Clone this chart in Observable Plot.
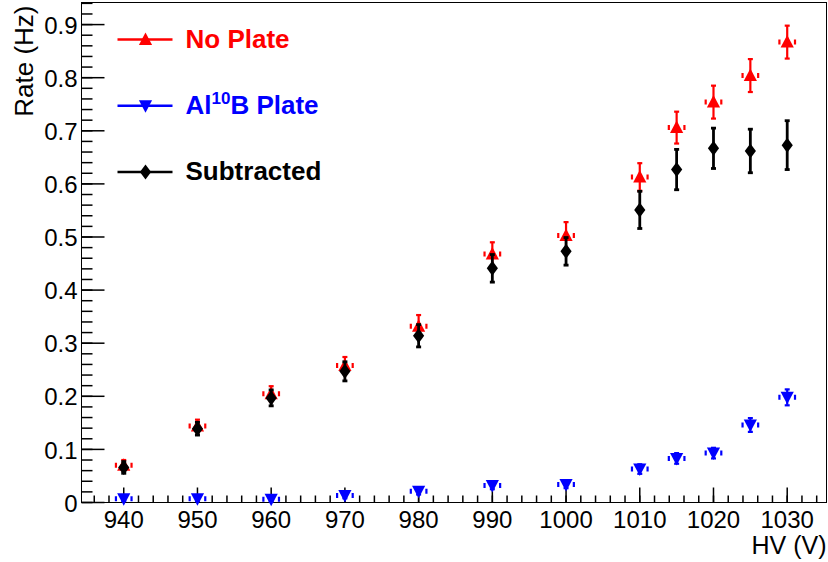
<!DOCTYPE html>
<html>
<head>
<meta charset="utf-8">
<script src="https://cdn.jsdelivr.net/npm/d3@7"></script>
<script src="https://cdn.jsdelivr.net/npm/@observablehq/plot@0.6"></script>
<style>
  html, body { margin: 0; padding: 0; background: #fff; }
  #chart svg { display: block; }
</style>
</head>
<body>
<div id="chart"></div>
<script>
// High-voltage scan: count rate with and without the Al-10B plate, and their difference
const hv = [940, 950, 960, 970, 980, 990, 1000, 1010, 1015, 1020, 1025, 1030];

const noPlate    = [0.070, 0.144, 0.205, 0.258, 0.332, 0.468, 0.503, 0.613, 0.706, 0.754, 0.804, 0.867];
const noPlateErr = [0.010, 0.012, 0.014, 0.016, 0.021, 0.022, 0.025, 0.026, 0.030, 0.031, 0.031, 0.031];

const alPlate    = [0.007, 0.007, 0.006, 0.013, 0.021, 0.032, 0.034, 0.063, 0.083, 0.093, 0.146, 0.198];
const alPlateErr = [0.004, 0.004, 0.004, 0.005, 0.006, 0.007, 0.007, 0.009, 0.010, 0.010, 0.013, 0.015];

const subtracted    = [0.066, 0.139, 0.197, 0.247, 0.314, 0.441, 0.473, 0.551, 0.627, 0.667, 0.662, 0.673];
const subtractedErr = [0.011, 0.012, 0.015, 0.018, 0.021, 0.026, 0.026, 0.035, 0.038, 0.038, 0.041, 0.046];

const xMajorTicks = [940, 950, 960, 970, 980, 990, 1000, 1010, 1020, 1030];
const xMinorTicks = d3.range(936, 1035, 2);
const yMajorTicks = [0, 0.1, 0.2, 0.3, 0.4, 0.5, 0.6, 0.7, 0.8, 0.9];
const yMinorTicks = d3.range(0, 0.941, 0.02);

const xTitle = "HV (V)";
const yTitle = "Rate (Hz)";

// ---- custom marker shapes (pixel units) ----
const poly = pts => ({
  draw(ctx) {
    ctx.moveTo(pts[0][0], pts[0][1]);
    for (const p of pts.slice(1)) ctx.lineTo(p[0], p[1]);
    ctx.closePath();
  }
});
const seg = (x1, y1, x2, y2) => ({draw(ctx) { ctx.moveTo(x1, y1); ctx.lineTo(x2, y2); }});
const triUp = poly([[0, -7], [6.6, 5.5], [-6.6, 5.5]]);
const triDown = poly([[0, 7], [6.6, -5.5], [-6.6, -5.5]]);
const diamond = poly([[0, -7.5], [5.6, 0], [0, 7.5], [-5.6, 0]]);
const cap = seg(-2.5, 0, 2.5, 0);
const sideCaps = {draw(ctx) { ctx.moveTo(-7.8, -2.5); ctx.lineTo(-7.8, 2.5); ctx.moveTo(7.8, -2.5); ctx.lineTo(7.8, 2.5); }};
const legendLine = seg(-27.5, 0, 27.5, 0);

const series = [
  {name: "No Plate", color: "#ff0000", values: noPlate, errors: noPlateErr, marker: triUp, sides: true, bar: 2.2},
  {name: "Al10B Plate", color: "#0000ff", values: alPlate, errors: alPlateErr, marker: triDown, sides: true, bar: 2.2},
  {name: "Subtracted", color: "#000000", values: subtracted, errors: subtractedErr, marker: diamond, sides: false, bar: 2.8}
];

const dataMarks = series.flatMap(s => {
  const rows = hv.map((x, i) => ({hv: x, v: s.values[i], e: s.errors[i]}));
  const marks = [
    Plot.ruleX(rows, {x: "hv", y1: d => d.v - d.e, y2: d => d.v + d.e, stroke: s.color, strokeWidth: s.bar}),
    Plot.dot(rows, {x: "hv", y: d => d.v + d.e, symbol: cap, stroke: s.color, strokeWidth: s.bar, fill: "none"}),
    Plot.dot(rows, {x: "hv", y: d => d.v - d.e, symbol: cap, stroke: s.color, strokeWidth: s.bar, fill: "none"})
  ];
  if (s.sides) marks.push(Plot.dot(rows, {x: "hv", y: "v", symbol: sideCaps, stroke: s.color, strokeWidth: 2.2, fill: "none"}));
  marks.push(Plot.dot(rows, {x: "hv", y: "v", symbol: s.marker, fill: s.color, stroke: "none"}));
  return marks;
});

const legendMarks = series.flatMap((s, i) => {
  const dy = 37 + i * 66.3;
  return [
    Plot.dot([s], {frameAnchor: "top-left", dx: 63.5, dy, symbol: legendLine, stroke: s.color, strokeWidth: 2.5, fill: "none"}),
    Plot.dot([s], {frameAnchor: "top-left", dx: 64, dy, symbol: s.marker, fill: s.color, stroke: "none"}),
    Plot.text([s], {frameAnchor: "top-left", dx: 104, dy, text: d => d.name, fill: s.color, fontWeight: "bold",
      fontSize: 26, textAnchor: "start", lineAnchor: "middle"})
  ];
});

const chart = Plot.plot({
  width: 828,
  height: 562,
  marginLeft: 81,
  marginRight: 2,
  marginTop: 2,
  marginBottom: 60,
  style: {fontFamily: "'Liberation Sans', Arial, sans-serif", background: "#fff", color: "#000"},
  x: {domain: [934.27, 1035.33]},
  y: {domain: [0, 0.9416]},
  marks: [
    // inward ticks
    Plot.dot(xMinorTicks, {x: d => d, frameAnchor: "bottom", symbol: seg(0, 0, 0, -7), stroke: "#000", fill: "none"}),
    Plot.dot(xMajorTicks, {x: d => d, frameAnchor: "bottom", symbol: seg(0, 0, 0, -15), stroke: "#000", fill: "none"}),
    Plot.dot(yMinorTicks, {y: d => d, frameAnchor: "left", symbol: seg(0, 0, 11, 0), stroke: "#000", fill: "none"}),
    Plot.dot(yMajorTicks, {y: d => d, frameAnchor: "left", symbol: seg(0, 0, 23, 0), stroke: "#000", fill: "none"}),
    Plot.axisX({ticks: xMajorTicks, tickSize: 0, tickPadding: 8, fontSize: 24, label: null, tickFormat: d => String(d)}),
    Plot.axisY({ticks: yMajorTicks, tickSize: 0, tickPadding: 4, fontSize: 24, label: null, dy: 1.5,
      tickFormat: d => d === 0 ? "0" : d.toFixed(1)}),
    Plot.frame({stroke: "#000", strokeWidth: 1}),
    Plot.text([xTitle], {frameAnchor: "bottom-right", textAnchor: "end", lineAnchor: "bottom", dy: 51.3, fontSize: 25}),
    Plot.text([yTitle], {frameAnchor: "top-left", rotate: -90, textAnchor: "end", lineAnchor: "bottom", dx: -48.5, dy: 3, fontSize: 26}),
    ...dataMarks,
    ...legendMarks
  ]
});

// superscript mass number in the plate label
d3.select(chart).selectAll("text").filter(function () { return this.textContent === "Al10B Plate"; })
  .each(function () {
    const t = d3.select(this);
    t.text(null);
    t.append("tspan").text("Al");
    t.append("tspan").attr("dy", -10).attr("font-size", 17).text("10");
    t.append("tspan").attr("dy", 10).text("B Plate");
  });

document.getElementById("chart").appendChild(chart);
</script>
</body>
</html>
